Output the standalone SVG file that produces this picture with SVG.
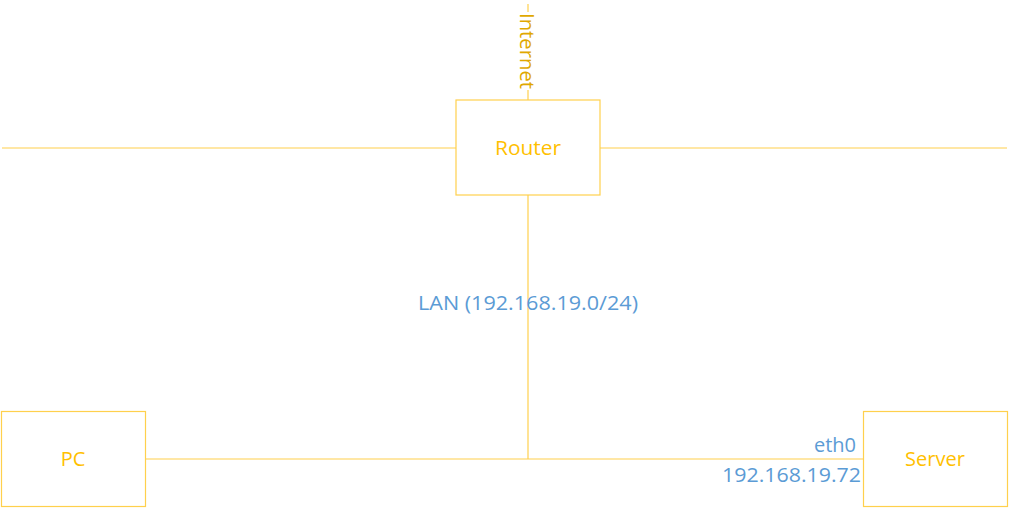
<svg xmlns="http://www.w3.org/2000/svg" width="1010" height="509" viewBox="0 0 1010 509">
<style>
.box{fill:#fff;stroke:#FFD04D;stroke-width:1.2}
.ln{stroke:#FFD04D;stroke-width:1.2;fill:none}
.lbl{font-family:"Open Sans","Noto Sans",sans-serif;font-size:20px;fill:#FFC000;text-anchor:middle}
.blue{font-family:"Open Sans","Noto Sans",sans-serif;font-size:20px;fill:#5B9BD5}
</style>
<rect width="1010" height="509" fill="#fff"/>
<g id="connectors">
<line class="ln" x1="528" y1="4" x2="528" y2="12"/>
<line class="ln" x1="528" y1="90" x2="528" y2="100"/>
<line class="ln" x1="2" y1="148" x2="456" y2="148"/>
<line class="ln" x1="600" y1="148" x2="1007" y2="148"/>
<line class="ln" x1="528" y1="195" x2="528" y2="459"/>
<line class="ln" x1="145" y1="459" x2="863" y2="459"/>
</g>
<g id="internet">
<text transform="translate(520,51) rotate(90)" font-family="'Open Sans','Noto Sans',sans-serif" font-size="20" fill="#E0A800" text-anchor="middle" textLength="76" lengthAdjust="spacingAndGlyphs">Internet</text>
</g>
<g id="router">
<rect class="box" x="456" y="100" width="144" height="95"/>
<text class="lbl" x="528" y="155" textLength="66" lengthAdjust="spacingAndGlyphs">Router</text>
</g>
<g id="pc">
<rect class="box" x="1.5" y="411.5" width="144" height="95"/>
<text class="lbl" x="73" y="466">PC</text>
</g>
<g id="server">
<rect class="box" x="863.5" y="411.5" width="144" height="95"/>
<text class="lbl" x="935" y="466">Server</text>
</g>
<g id="labels">
<text class="blue" x="528" y="310" text-anchor="middle" textLength="220" lengthAdjust="spacingAndGlyphs">LAN (192.168.19.0/24)</text>
<text class="blue" x="856" y="452" text-anchor="end">eth0</text>
<text class="blue" x="861" y="482" text-anchor="end" textLength="139" lengthAdjust="spacingAndGlyphs">192.168.19.72</text>
</g>
</svg>
